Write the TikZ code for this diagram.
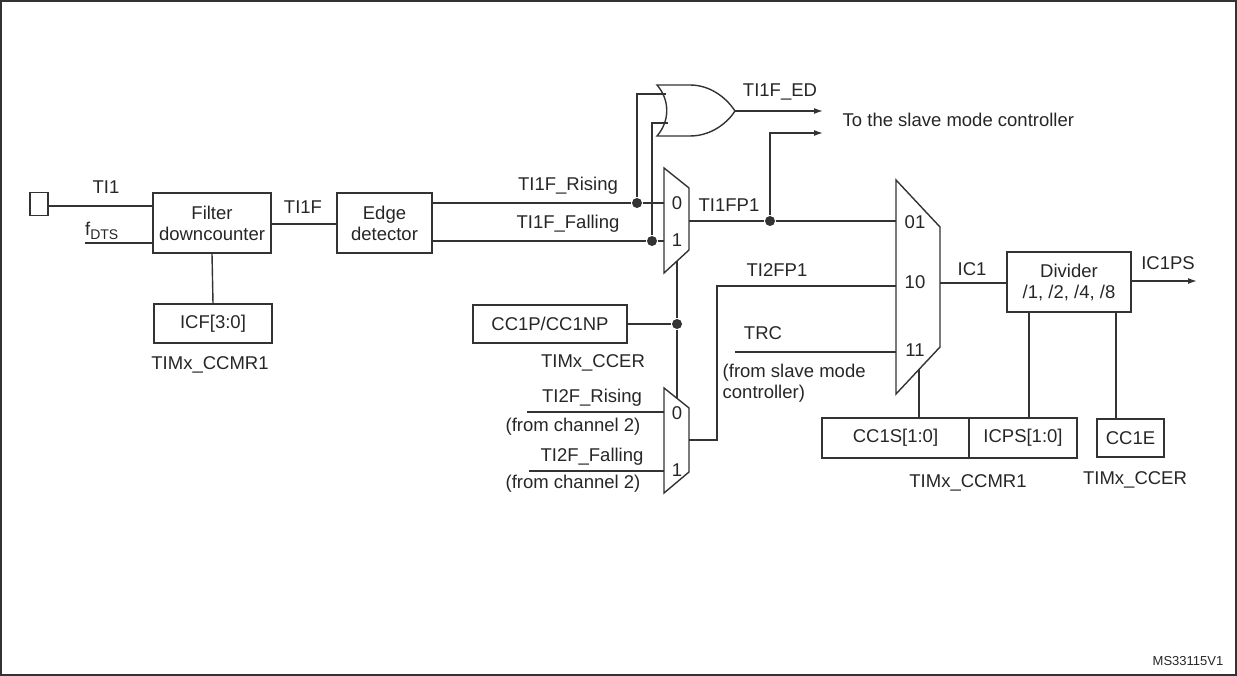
\documentclass[tikz,border=0pt]{standalone}
\usepackage{fontspec}
\setmainfont{Liberation Sans}
\usetikzlibrary{arrows.meta}
\begin{document}
\begin{tikzpicture}[x=1pt,y=-1pt,line width=1.4pt,color=black!80,
  every node/.style={font=\fontsize{18.5}{21}\selectfont,inner sep=0pt,text=black!85},
  blk/.style={draw,minimum width=0pt,align=center},
  arr/.style={-{Latex[length=9pt,width=6pt]}},
  dot/.style={circle,fill,minimum size=10pt,inner sep=0pt}]
\draw[line width=1.6pt] (0.8,0.8) rectangle (1236.2,675.2);
\useasboundingbox (0,0) rectangle (1237,676);
% left part
\node[draw,minimum width=18pt,minimum height=23pt] (sq) at (39,204) {};
\node[blk,minimum width=118pt,minimum height=60pt] (filt) at (212,223) {Filter\\downcounter};
\node[blk,minimum width=118pt,minimum height=39pt] (icf) at (213,323.5) {ICF[3:0]};
\node (ccmrA) at (210,365) {TIMx\_CCMR1};
\node (ti1) at (106,187) {TI1};
\node (fdts) at (102,231) {f\textsubscript{\fontsize{14}{16}\selectfont DTS}};
\coordinate (fdtsL) at (85,243);
\draw (sq.east |- 0,206) -- (filt.west |- 0,206);
\draw (fdtsL) -- (filt.west |- fdtsL);
\draw (filt.south) -- (icf.north);
\node[blk,minimum width=95pt,minimum height=60pt] (edge) at (384.5,223) {Edge\\detector};
\draw (filt.east |- 0,224) -- (edge.west |- 0,224);
\node (ti1f) at (303,207) {TI1F};
% mux1
\coordinate (m1a) at (664,168); \coordinate (m1b) at (689,188);
\coordinate (m1c) at (689,250); \coordinate (m1d) at (664,273);
\draw (m1a) -- (m1b) -- (m1c) -- (m1d) -- cycle;
\node (m1zero) at (677,203) {0};
\node (m1one) at (677,240) {1};
\node[dot] (dr) at (637,203) {};
\node[dot] (df) at (652,241) {};
\node (rise) at (568,186) {TI1F\_Rising};
\node (fall) at (568,224) {TI1F\_Falling};
\draw (edge.east |- dr) -- (dr) -- (664,203);
\draw (edge.east |- df) -- (df) -- (664,241);
% OR gate
\coordinate (orA) at (657,85); \coordinate (orB) at (657,136);
\coordinate (orT) at (735,111);
\draw (orA) .. controls (670,100) and (670,121) .. (orB)
  -- (690,136) .. controls (712,136) and (728,122) .. (orT)
  .. controls (728,100) and (712,85) .. (690,85) -- cycle;
\draw (dr) |- (666,94);
\draw (df) |- (668,123);
\coordinate (edEnd) at (823,111);
\draw[arr] (orT) -- (edEnd);
\node (ted) at (780,92) {TI1F\_ED};
\node[anchor=west] (slave) at (842,120) {To the slave mode controller};
% TI1FP1
\node[dot] (dp) at (770,221) {};
\node (tifp) at (729,205) {TI1FP1};
\coordinate (slEnd) at (823,133);
\draw (689,221) -- (dp) -- (896,221);
\draw[arr] (dp) |- (slEnd);
% mux2
\coordinate (m2a) at (896,180); \coordinate (m2b) at (940,227);
\coordinate (m2c) at (940,347); \coordinate (m2d) at (896,394);
\draw (m2a) -- (m2b) -- (m2c) -- (m2d) -- cycle;
\node (s01) at (915,222) {01};
\node (s10) at (915,282) {10};
\node (s11) at (915,350) {11};
% CC1P
\node[blk,minimum width=154pt,minimum height=38pt] (ccp) at (550,324) {CC1P/CC1NP};
\node (ccerA) at (593,363) {TIMx\_CCER};
\node[dot] (dc) at (677,324) {};
\draw (ccp.east) -- (dc);
\draw (677,261) -- (dc) -- (677,398);
% mux3
\coordinate (m3a) at (664,388); \coordinate (m3b) at (689,408);
\coordinate (m3c) at (689,472); \coordinate (m3d) at (664,493);
\draw (m3a) -- (m3b) -- (m3c) -- (m3d) -- cycle;
\node (m3zero) at (677,413) {0};
\node (m3one) at (677,470) {1};
\coordinate (r2L) at (527,412); \coordinate (f2L) at (529,471);
\draw (r2L) -- (664,412);
\draw (f2L) -- (664,471);
\node (r2) at (592,398) {TI2F\_Rising};
\node (r2c) at (573,427) {(from channel 2)};
\node (f2) at (592,457) {TI2F\_Falling};
\node (f2c) at (573,484) {(from channel 2)};
\draw (689,440) -- (717,440) -- (717,286) -- (896,286);
\node (ti2fp) at (777,270) {TI2FP1};
\coordinate (trcL) at (735,352);
\draw (trcL) -- (896,352);
\node (trc) at (763,333) {TRC};
\node[anchor=west,align=left] (trcc) at (722,383) {(from slave mode\\controller)};
% right part
\node[blk,minimum width=124pt,minimum height=60pt] (div) at (1069,282) {Divider\\/1, /2, /4, /8};
\draw (940,283) -- (div.west |- 0,283);
\node (ic1) at (972,269) {IC1};
\coordinate (psEnd) at (1197,281);
\draw[arr] (div.east |- psEnd) -- (psEnd);
\node (ic1ps) at (1168,263) {IC1PS};
\node[blk,minimum width=147pt,minimum height=40pt] (cc1s) at (895.5,438) {CC1S[1:0]};
\node[blk,minimum width=108pt,minimum height=40pt] (icps) at (1023,438) {ICPS[1:0]};
\node[blk,minimum width=67pt,minimum height=38pt] (cc1e) at (1130.5,438) {CC1E};
\draw (919,369) -- (919,418);
\draw (1029,312) -- (1029,418);
\draw (1116,312) -- (cc1e.north -| 1116,0);
\node (ccmrB) at (968,483) {TIMx\_CCMR1};
\node (ccerB) at (1135,480) {TIMx\_CCER};
\node[font=\fontsize{13}{15}\selectfont] (ms) at (1188,661) {MS33115V1};
\end{tikzpicture}
\end{document}
